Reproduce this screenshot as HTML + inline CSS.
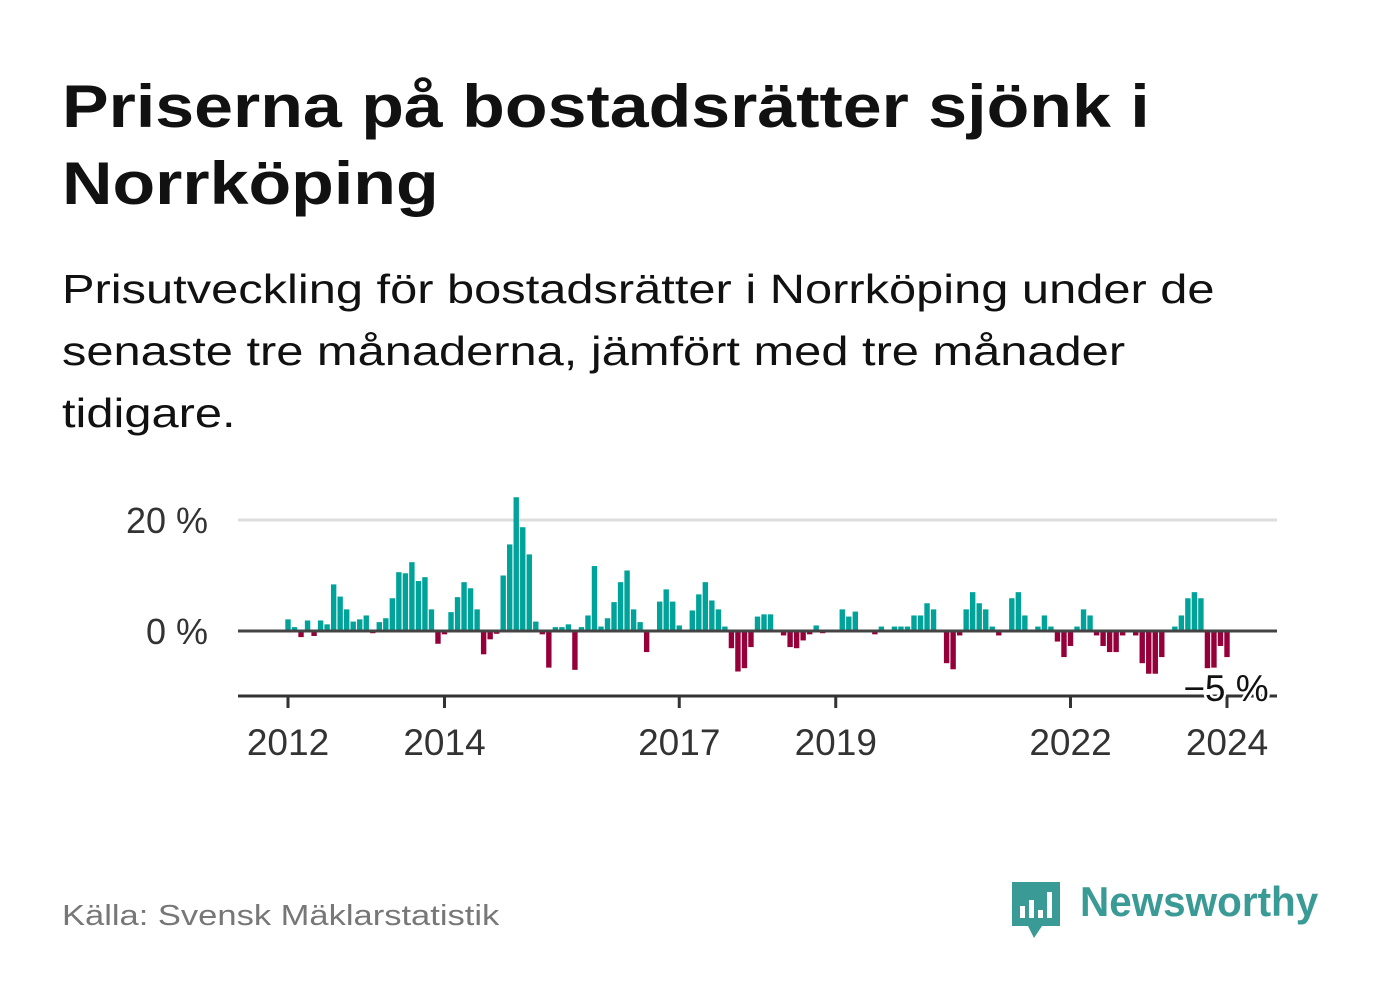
<!DOCTYPE html>
<html><head><meta charset="utf-8"><style>
body{margin:0;width:1382px;height:999px;background:#fff;font-family:"Liberation Sans",sans-serif;overflow:hidden;position:relative}
.sc{display:inline-block;transform-origin:0 0;white-space:nowrap}
.t{position:absolute;left:62px;top:68px;font-size:60px;font-weight:bold;color:#111;line-height:77px;margin:0}
.t .sc{transform:scaleX(1.165)}
.s{position:absolute;left:62px;top:258px;font-size:41px;color:#111;line-height:62px}
.s .sc{transform:scaleX(1.19)}
.src{position:absolute;left:62px;top:900px;font-size:29px;color:#777}
.src .sc{transform:scaleX(1.19)}
.logo{position:absolute;left:1080px;top:878px;font-size:42px;font-weight:bold;color:#3a9a95}
.logo .sc{transform:scaleX(0.963)}
</style></head><body>
<h1 class="t"><span class="sc">Priserna på bostadsrätter sjönk i</span><br><span class="sc">Norrköping</span></h1>
<div class="s"><span class="sc">Prisutveckling för bostadsrätter i Norrköping under de</span><br><span class="sc">senaste tre månaderna, jämfört med tre månader</span><br><span class="sc">tidigare.</span></div>
<svg id="chart" width="1382" height="999" style="position:absolute;left:0;top:0"></svg>
<div class="src"><span class="sc">Källa: Svensk Mäklarstatistik</span></div>
<svg style="position:absolute;left:1010px;top:880px" width="52" height="60">
<path d="M2 2h48v44H32l-8 12-6-12H2z" fill="#3a9a95"/>
<rect x="10" y="26" width="5" height="12" fill="#fff"/><rect x="19" y="20" width="5" height="18" fill="#fff"/><rect x="28" y="30" width="5" height="8" fill="#fff"/><rect x="37" y="12" width="5" height="26" fill="#fff"/>
</svg>
<div class="logo"><span class="sc">Newsworthy</span></div>
<script>
const values=[2.1,0.7,-1.1,1.9,-0.9,1.9,1.2,8.4,6.2,3.9,1.7,2.1,2.8,-0.4,1.6,2.3,5.9,10.6,10.4,12.4,9.0,9.7,3.9,-2.3,-0.6,3.4,6.1,8.8,7.7,3.9,-4.2,-1.5,-0.5,10.0,15.6,24.1,18.7,13.8,1.7,-0.6,-6.6,0.7,0.7,1.2,-7.0,0.7,2.8,
11.7,0.8,2.3,5.2,8.8,10.9,3.9,1.6,-3.8,0,5.3,7.5,5.3,1.0,0,3.7,6.6,8.8,5.5,3.9,0.8,-3.1,-7.3,-6.7,-2.9,2.6,3.0,3.0,0,-0.8,-2.9,-3.1,-1.7,-0.6,1.0,-0.4,0,0,3.9,2.6,3.5,0,0,-0.6,0.8,0,0.8,0.8,0.8,2.8,2.8,5.0,
3.9,0,-5.8,-6.9,-0.8,3.9,7.0,5.0,3.9,0.8,-0.8,0,5.9,7.0,2.8,0,0.8,2.8,0.8,-1.9,-4.7,-2.7,0.8,3.9,2.8,-0.8,-2.7,-3.8,-3.8,-0.8,0,-0.8,-5.8,-7.7,-7.7,-4.7,0,0.8,2.8,5.9,7.0,5.9,-6.7,-6.6,-2.7,-4.7];
const startYear=2012;
const xTickYears=[2012,2014,2017,2019,2022,2024];
const yTicks=[20,0];
const NS="http://www.w3.org/2000/svg";
const svg=document.getElementById('chart');
const x=t=>288+(t-2012)*(1227-288)/12;
const y=v=>631-v*5.55;
function mk(tag,a){const e=document.createElementNS(NS,tag);for(const k in a)e.setAttribute(k,a[k]);svg.appendChild(e);return e;}
yTicks.forEach(v=>{
 if(v!==0){const g=mk('line',{x1:238,x2:1277,y1:y(v),y2:y(v),stroke:'#ddd','stroke-width':3});
 
 }
 const t=mk('text',{x:208,y:y(v)+13,'text-anchor':'end','font-size':36,fill:'#333'});t.textContent=v+' %';
 
 
});
values.forEach((v,i)=>{
 const cx=x(startYear+i/12);
 const r=mk('rect',{x:cx-2.7,width:5.4,y:v>=0?y(v):y(0),height:Math.abs(y(v)-y(0)),fill:v>=0?'#00a39a':'#96003a'});
 
 
});
const z=mk('line',{x1:238,x2:1277,y1:y(0),y2:y(0),stroke:'#444','stroke-width':3});


const ax=mk('line',{x1:238,x2:1277,y1:696,y2:696,stroke:'#333','stroke-width':3});


xTickYears.forEach(yr=>{
 const l=mk('line',{x1:x(yr),x2:x(yr),y1:696,y2:708,stroke:'#333','stroke-width':3});
 
 
 const t=mk('text',{x:x(yr),y:755,'text-anchor':'middle','font-size':37,fill:'#333'});t.textContent=yr;
 
 
});
const lb=mk('text',{x:1226,y:701,'text-anchor':'middle','font-size':37,fill:'#111',stroke:'#fff','stroke-width':5,'paint-order':'stroke'});lb.textContent='−5 %';


</script>
</body></html>
